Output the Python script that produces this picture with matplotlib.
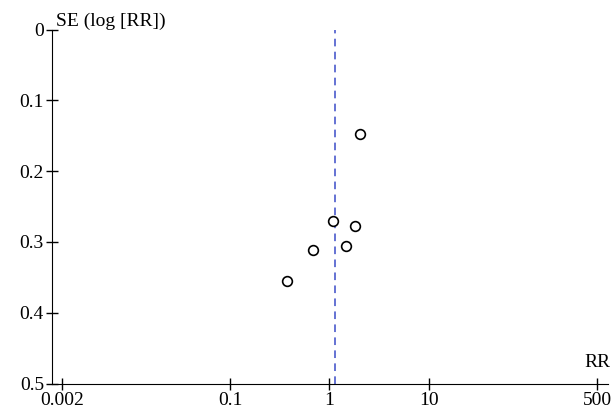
import numpy as np
import matplotlib.pyplot as plt

# funnel plot data (RR, SE of log RR)
rr = [2.01, 1.09, 1.82, 1.48, 0.69, 0.37]
se = [0.147, 0.270, 0.277, 0.306, 0.312, 0.355]
pooled_rr = 1.13

xticks = [0.002, 0.1, 1, 10, 500]
xtick_labels = ['0.002', '0.1', '1', '10', '500']
yticks = [0, 0.1, 0.2, 0.3, 0.4, 0.5]
ytick_labels = ['0', '0.1', '0.2', '0.3', '0.4', '0.5']

plt.rcParams['font.family'] = ['Liberation Serif', 'DejaVu Serif']

fig = plt.figure(figsize=(6.16, 4.15), dpi=100)
ax = fig.add_axes([0.0849, 0.0759, 0.9021, 0.853])

ax.axvline(pooled_rr, color='#3b4cc8', linestyle=(0, (5, 3.5)), linewidth=1.1)
ax.plot(rr, se, linestyle='none', marker='o', markersize=7,
        markerfacecolor='white', markeredgecolor='black', markeredgewidth=1.2)

ax.set_xscale('log')
ax.set_xlim(0.0016, 645)
ax.set_ylim(0.5, 0)
ax.set_xticks(xticks)
ax.set_xticklabels(xtick_labels)
ax.minorticks_off()
ax.set_yticks(yticks)
ax.set_yticklabels(ytick_labels)

ax.spines['top'].set_visible(False)
ax.spines['right'].set_visible(False)
ax.tick_params(direction='inout', length=8, width=1, labelsize=14, pad=2)

ax.text(0.007, 1.0, 'SE (log [RR])', transform=ax.transAxes, fontsize=14,
        ha='left', va='bottom')
ax.text(500, 0.483, 'RR', fontsize=14, ha='center', va='bottom')

fig.savefig('out.png', dpi=100)
